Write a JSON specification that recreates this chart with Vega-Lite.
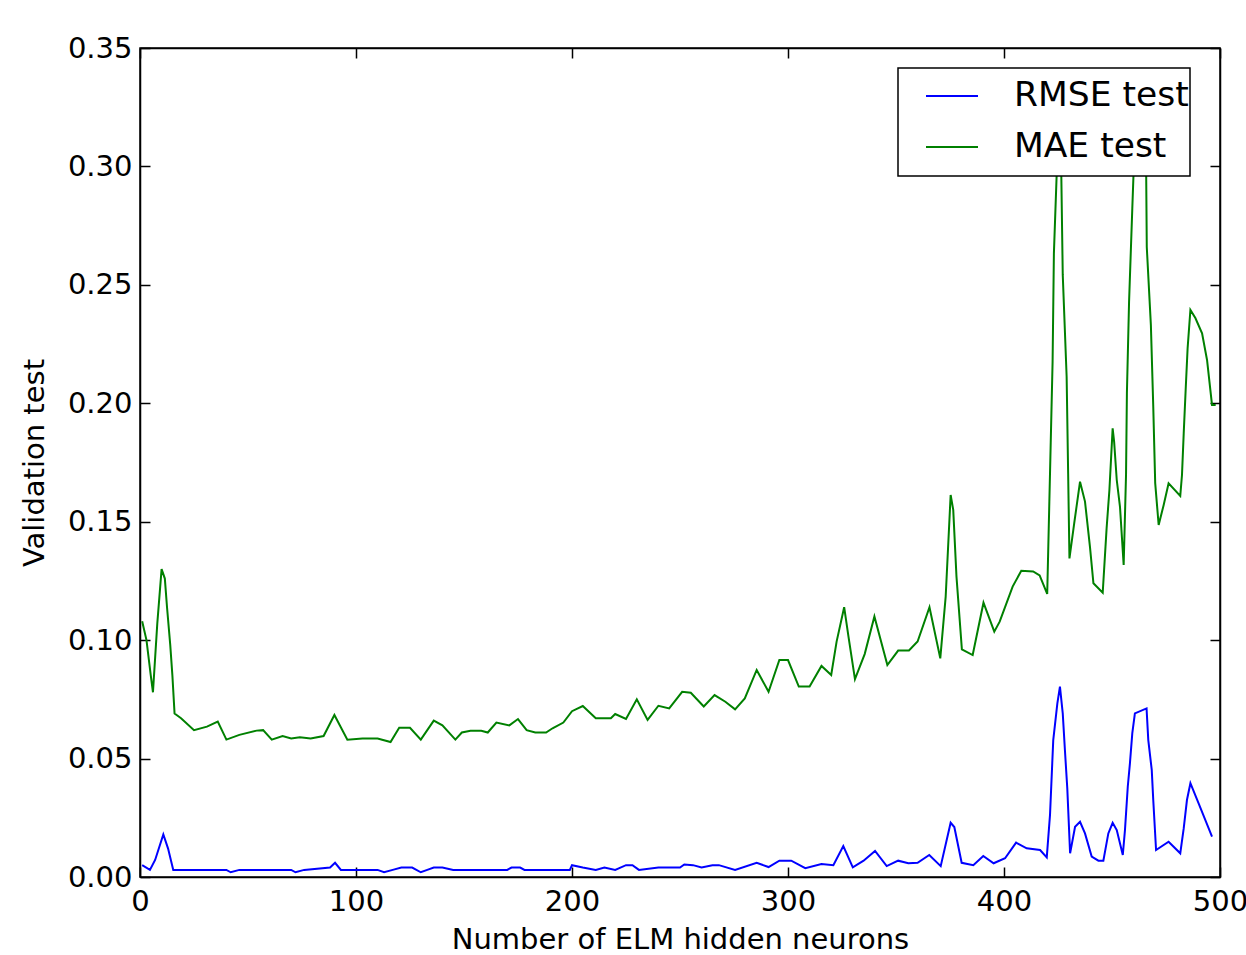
{
  "$schema": "https://vega.github.io/schema/vega-lite/v6.json",
  "width": 1080,
  "height": 829,
  "autosize": {"type": "none"},
  "padding": {"left": 140, "top": 48, "right": 26, "bottom": 78},
  "background": "white",
  "config": {
    "font": "DejaVu Sans",
    "view": {"stroke": "black", "strokeWidth": 1.5}
  },
  "data": {
    "values": [
      {"n": 1, "v": 0.108, "s": "MAE test"},
      {"n": 3, "v": 0.100, "s": "MAE test"},
      {"n": 5, "v": 0.085, "s": "MAE test"},
      {"n": 6, "v": 0.078, "s": "MAE test"},
      {"n": 8, "v": 0.107, "s": "MAE test"},
      {"n": 10, "v": 0.130, "s": "MAE test"},
      {"n": 11.5, "v": 0.126, "s": "MAE test"},
      {"n": 12.5, "v": 0.114, "s": "MAE test"},
      {"n": 14, "v": 0.098, "s": "MAE test"},
      {"n": 15, "v": 0.085, "s": "MAE test"},
      {"n": 16, "v": 0.069, "s": "MAE test"},
      {"n": 19, "v": 0.067, "s": "MAE test"},
      {"n": 25, "v": 0.062, "s": "MAE test"},
      {"n": 31, "v": 0.0635, "s": "MAE test"},
      {"n": 36, "v": 0.0656, "s": "MAE test"},
      {"n": 40, "v": 0.058, "s": "MAE test"},
      {"n": 46, "v": 0.060, "s": "MAE test"},
      {"n": 54, "v": 0.0618, "s": "MAE test"},
      {"n": 57, "v": 0.062, "s": "MAE test"},
      {"n": 61, "v": 0.058, "s": "MAE test"},
      {"n": 66, "v": 0.0595, "s": "MAE test"},
      {"n": 70, "v": 0.0585, "s": "MAE test"},
      {"n": 74, "v": 0.059, "s": "MAE test"},
      {"n": 79, "v": 0.0585, "s": "MAE test"},
      {"n": 85, "v": 0.0595, "s": "MAE test"},
      {"n": 90, "v": 0.0684, "s": "MAE test"},
      {"n": 96, "v": 0.058, "s": "MAE test"},
      {"n": 103, "v": 0.0585, "s": "MAE test"},
      {"n": 110, "v": 0.0585, "s": "MAE test"},
      {"n": 116, "v": 0.057, "s": "MAE test"},
      {"n": 120, "v": 0.063, "s": "MAE test"},
      {"n": 125, "v": 0.063, "s": "MAE test"},
      {"n": 130, "v": 0.058, "s": "MAE test"},
      {"n": 136, "v": 0.066, "s": "MAE test"},
      {"n": 140, "v": 0.064, "s": "MAE test"},
      {"n": 146, "v": 0.058, "s": "MAE test"},
      {"n": 149, "v": 0.061, "s": "MAE test"},
      {"n": 153, "v": 0.0617, "s": "MAE test"},
      {"n": 158, "v": 0.0617, "s": "MAE test"},
      {"n": 161, "v": 0.061, "s": "MAE test"},
      {"n": 165, "v": 0.0652, "s": "MAE test"},
      {"n": 171, "v": 0.064, "s": "MAE test"},
      {"n": 175, "v": 0.0667, "s": "MAE test"},
      {"n": 179, "v": 0.062, "s": "MAE test"},
      {"n": 183, "v": 0.061, "s": "MAE test"},
      {"n": 188, "v": 0.061, "s": "MAE test"},
      {"n": 191, "v": 0.0628, "s": "MAE test"},
      {"n": 196, "v": 0.0652, "s": "MAE test"},
      {"n": 200, "v": 0.070, "s": "MAE test"},
      {"n": 205, "v": 0.0722, "s": "MAE test"},
      {"n": 211, "v": 0.067, "s": "MAE test"},
      {"n": 218, "v": 0.067, "s": "MAE test"},
      {"n": 220, "v": 0.0688, "s": "MAE test"},
      {"n": 225, "v": 0.0667, "s": "MAE test"},
      {"n": 230, "v": 0.075, "s": "MAE test"},
      {"n": 235, "v": 0.0663, "s": "MAE test"},
      {"n": 240, "v": 0.0723, "s": "MAE test"},
      {"n": 245, "v": 0.0712, "s": "MAE test"},
      {"n": 251, "v": 0.0782, "s": "MAE test"},
      {"n": 255, "v": 0.0778, "s": "MAE test"},
      {"n": 261, "v": 0.072, "s": "MAE test"},
      {"n": 266, "v": 0.0768, "s": "MAE test"},
      {"n": 271, "v": 0.074, "s": "MAE test"},
      {"n": 275.5, "v": 0.0708, "s": "MAE test"},
      {"n": 280, "v": 0.0754, "s": "MAE test"},
      {"n": 285.5, "v": 0.0874, "s": "MAE test"},
      {"n": 291, "v": 0.0782, "s": "MAE test"},
      {"n": 296, "v": 0.0916, "s": "MAE test"},
      {"n": 300, "v": 0.0916, "s": "MAE test"},
      {"n": 305, "v": 0.0804, "s": "MAE test"},
      {"n": 310, "v": 0.0804, "s": "MAE test"},
      {"n": 315.5, "v": 0.0891, "s": "MAE test"},
      {"n": 320, "v": 0.0853, "s": "MAE test"},
      {"n": 322.5, "v": 0.0994, "s": "MAE test"},
      {"n": 326, "v": 0.1139, "s": "MAE test"},
      {"n": 328, "v": 0.1015, "s": "MAE test"},
      {"n": 331, "v": 0.0835, "s": "MAE test"},
      {"n": 335.5, "v": 0.0941, "s": "MAE test"},
      {"n": 340, "v": 0.110, "s": "MAE test"},
      {"n": 346, "v": 0.0895, "s": "MAE test"},
      {"n": 351, "v": 0.0956, "s": "MAE test"},
      {"n": 356, "v": 0.0956, "s": "MAE test"},
      {"n": 360, "v": 0.0994, "s": "MAE test"},
      {"n": 365.5, "v": 0.1139, "s": "MAE test"},
      {"n": 370.5, "v": 0.0923, "s": "MAE test"},
      {"n": 373, "v": 0.1184, "s": "MAE test"},
      {"n": 375.3, "v": 0.1613, "s": "MAE test"},
      {"n": 376.5, "v": 0.155, "s": "MAE test"},
      {"n": 378, "v": 0.1268, "s": "MAE test"},
      {"n": 380.5, "v": 0.0961, "s": "MAE test"},
      {"n": 385.5, "v": 0.0937, "s": "MAE test"},
      {"n": 390.5, "v": 0.1158, "s": "MAE test"},
      {"n": 395.5, "v": 0.1036, "s": "MAE test"},
      {"n": 398, "v": 0.1078, "s": "MAE test"},
      {"n": 404, "v": 0.1226, "s": "MAE test"},
      {"n": 408, "v": 0.1293, "s": "MAE test"},
      {"n": 413.5, "v": 0.129, "s": "MAE test"},
      {"n": 416.5, "v": 0.1273, "s": "MAE test"},
      {"n": 420, "v": 0.1195, "s": "MAE test"},
      {"n": 421.3, "v": 0.1704, "s": "MAE test"},
      {"n": 422.5, "v": 0.2176, "s": "MAE test"},
      {"n": 423.1, "v": 0.2633, "s": "MAE test"},
      {"n": 424.4, "v": 0.297, "s": "MAE test"},
      {"n": 426, "v": 0.33, "s": "MAE test"},
      {"n": 427.2, "v": 0.2542, "s": "MAE test"},
      {"n": 429, "v": 0.2112, "s": "MAE test"},
      {"n": 429.7, "v": 0.1704, "s": "MAE test"},
      {"n": 430.3, "v": 0.1345, "s": "MAE test"},
      {"n": 432.5, "v": 0.1493, "s": "MAE test"},
      {"n": 435.2, "v": 0.1669, "s": "MAE test"},
      {"n": 437.5, "v": 0.1585, "s": "MAE test"},
      {"n": 439.8, "v": 0.1394, "s": "MAE test"},
      {"n": 441.4, "v": 0.124, "s": "MAE test"},
      {"n": 445.7, "v": 0.120, "s": "MAE test"},
      {"n": 447.5, "v": 0.1472, "s": "MAE test"},
      {"n": 448.8, "v": 0.1634, "s": "MAE test"},
      {"n": 450.3, "v": 0.1894, "s": "MAE test"},
      {"n": 451, "v": 0.1836, "s": "MAE test"},
      {"n": 452.2, "v": 0.1676, "s": "MAE test"},
      {"n": 453.7, "v": 0.1563, "s": "MAE test"},
      {"n": 455.4, "v": 0.1317, "s": "MAE test"},
      {"n": 456.5, "v": 0.17, "s": "MAE test"},
      {"n": 456.9, "v": 0.2042, "s": "MAE test"},
      {"n": 457.9, "v": 0.2429, "s": "MAE test"},
      {"n": 459.4, "v": 0.2823, "s": "MAE test"},
      {"n": 460.8, "v": 0.318, "s": "MAE test"},
      {"n": 465.6, "v": 0.322, "s": "MAE test"},
      {"n": 466.1, "v": 0.266, "s": "MAE test"},
      {"n": 468, "v": 0.233, "s": "MAE test"},
      {"n": 469.1, "v": 0.1986, "s": "MAE test"},
      {"n": 470, "v": 0.1663, "s": "MAE test"},
      {"n": 471.6, "v": 0.1486, "s": "MAE test"},
      {"n": 473.9, "v": 0.157, "s": "MAE test"},
      {"n": 476.2, "v": 0.1662, "s": "MAE test"},
      {"n": 481.6, "v": 0.1609, "s": "MAE test"},
      {"n": 482.4, "v": 0.1697, "s": "MAE test"},
      {"n": 483.2, "v": 0.1873, "s": "MAE test"},
      {"n": 484.1, "v": 0.2056, "s": "MAE test"},
      {"n": 485, "v": 0.2232, "s": "MAE test"},
      {"n": 486.3, "v": 0.2394, "s": "MAE test"},
      {"n": 488.6, "v": 0.236, "s": "MAE test"},
      {"n": 491.7, "v": 0.2295, "s": "MAE test"},
      {"n": 494, "v": 0.2183, "s": "MAE test"},
      {"n": 496.3, "v": 0.1993, "s": "MAE test"},
      {"n": 498, "v": 0.1993, "s": "MAE test"},

      {"n": 1, "v": 0.005, "s": "RMSE test"},
      {"n": 4.6, "v": 0.003, "s": "RMSE test"},
      {"n": 7, "v": 0.0072, "s": "RMSE test"},
      {"n": 10.8, "v": 0.018, "s": "RMSE test"},
      {"n": 13, "v": 0.012, "s": "RMSE test"},
      {"n": 15.4, "v": 0.003, "s": "RMSE test"},
      {"n": 40, "v": 0.003, "s": "RMSE test"},
      {"n": 42, "v": 0.002, "s": "RMSE test"},
      {"n": 46, "v": 0.003, "s": "RMSE test"},
      {"n": 70, "v": 0.003, "s": "RMSE test"},
      {"n": 72, "v": 0.002, "s": "RMSE test"},
      {"n": 76, "v": 0.003, "s": "RMSE test"},
      {"n": 88, "v": 0.004, "s": "RMSE test"},
      {"n": 90.3, "v": 0.006, "s": "RMSE test"},
      {"n": 93, "v": 0.003, "s": "RMSE test"},
      {"n": 110, "v": 0.003, "s": "RMSE test"},
      {"n": 113, "v": 0.002, "s": "RMSE test"},
      {"n": 117, "v": 0.003, "s": "RMSE test"},
      {"n": 121, "v": 0.004, "s": "RMSE test"},
      {"n": 126, "v": 0.004, "s": "RMSE test"},
      {"n": 130, "v": 0.002, "s": "RMSE test"},
      {"n": 133, "v": 0.003, "s": "RMSE test"},
      {"n": 136, "v": 0.004, "s": "RMSE test"},
      {"n": 140, "v": 0.004, "s": "RMSE test"},
      {"n": 145, "v": 0.003, "s": "RMSE test"},
      {"n": 170, "v": 0.003, "s": "RMSE test"},
      {"n": 172, "v": 0.004, "s": "RMSE test"},
      {"n": 176, "v": 0.004, "s": "RMSE test"},
      {"n": 178, "v": 0.003, "s": "RMSE test"},
      {"n": 199, "v": 0.003, "s": "RMSE test"},
      {"n": 200, "v": 0.005, "s": "RMSE test"},
      {"n": 205, "v": 0.004, "s": "RMSE test"},
      {"n": 211, "v": 0.003, "s": "RMSE test"},
      {"n": 215, "v": 0.004, "s": "RMSE test"},
      {"n": 220, "v": 0.003, "s": "RMSE test"},
      {"n": 225, "v": 0.005, "s": "RMSE test"},
      {"n": 228, "v": 0.005, "s": "RMSE test"},
      {"n": 231, "v": 0.003, "s": "RMSE test"},
      {"n": 240, "v": 0.004, "s": "RMSE test"},
      {"n": 250, "v": 0.004, "s": "RMSE test"},
      {"n": 252, "v": 0.0053, "s": "RMSE test"},
      {"n": 256, "v": 0.005, "s": "RMSE test"},
      {"n": 260, "v": 0.004, "s": "RMSE test"},
      {"n": 265, "v": 0.005, "s": "RMSE test"},
      {"n": 268, "v": 0.005, "s": "RMSE test"},
      {"n": 275.5, "v": 0.003, "s": "RMSE test"},
      {"n": 285.5, "v": 0.006, "s": "RMSE test"},
      {"n": 291, "v": 0.0042, "s": "RMSE test"},
      {"n": 296, "v": 0.0069, "s": "RMSE test"},
      {"n": 301.5, "v": 0.0069, "s": "RMSE test"},
      {"n": 308, "v": 0.0037, "s": "RMSE test"},
      {"n": 315.5, "v": 0.0055, "s": "RMSE test"},
      {"n": 321, "v": 0.005, "s": "RMSE test"},
      {"n": 325.6, "v": 0.0131, "s": "RMSE test"},
      {"n": 330, "v": 0.0041, "s": "RMSE test"},
      {"n": 335, "v": 0.0069, "s": "RMSE test"},
      {"n": 340.3, "v": 0.011, "s": "RMSE test"},
      {"n": 345.7, "v": 0.0046, "s": "RMSE test"},
      {"n": 351, "v": 0.0069, "s": "RMSE test"},
      {"n": 355.7, "v": 0.0058, "s": "RMSE test"},
      {"n": 360, "v": 0.006, "s": "RMSE test"},
      {"n": 365.4, "v": 0.0093, "s": "RMSE test"},
      {"n": 370.7, "v": 0.0046, "s": "RMSE test"},
      {"n": 375.3, "v": 0.0229, "s": "RMSE test"},
      {"n": 377, "v": 0.0211, "s": "RMSE test"},
      {"n": 380.4, "v": 0.006, "s": "RMSE test"},
      {"n": 385.8, "v": 0.005, "s": "RMSE test"},
      {"n": 390.4, "v": 0.0089, "s": "RMSE test"},
      {"n": 395.2, "v": 0.0058, "s": "RMSE test"},
      {"n": 400.5, "v": 0.0079, "s": "RMSE test"},
      {"n": 405.6, "v": 0.0145, "s": "RMSE test"},
      {"n": 410.5, "v": 0.0121, "s": "RMSE test"},
      {"n": 416.7, "v": 0.0114, "s": "RMSE test"},
      {"n": 419.8, "v": 0.0083, "s": "RMSE test"},
      {"n": 421.3, "v": 0.0262, "s": "RMSE test"},
      {"n": 422.8, "v": 0.0578, "s": "RMSE test"},
      {"n": 424.7, "v": 0.0733, "s": "RMSE test"},
      {"n": 425.9, "v": 0.0804, "s": "RMSE test"},
      {"n": 427.2, "v": 0.0691, "s": "RMSE test"},
      {"n": 428.2, "v": 0.0536, "s": "RMSE test"},
      {"n": 429.3, "v": 0.0374, "s": "RMSE test"},
      {"n": 430.6, "v": 0.010, "s": "RMSE test"},
      {"n": 432.9, "v": 0.0212, "s": "RMSE test"},
      {"n": 435.2, "v": 0.0233, "s": "RMSE test"},
      {"n": 437.5, "v": 0.0184, "s": "RMSE test"},
      {"n": 440.6, "v": 0.0086, "s": "RMSE test"},
      {"n": 443.7, "v": 0.0069, "s": "RMSE test"},
      {"n": 446, "v": 0.0069, "s": "RMSE test"},
      {"n": 448.3, "v": 0.0184, "s": "RMSE test"},
      {"n": 450.3, "v": 0.0229, "s": "RMSE test"},
      {"n": 452.2, "v": 0.0198, "s": "RMSE test"},
      {"n": 455, "v": 0.0093, "s": "RMSE test"},
      {"n": 456, "v": 0.0198, "s": "RMSE test"},
      {"n": 457.3, "v": 0.0381, "s": "RMSE test"},
      {"n": 458.3, "v": 0.048, "s": "RMSE test"},
      {"n": 459.4, "v": 0.0607, "s": "RMSE test"},
      {"n": 460.6, "v": 0.0691, "s": "RMSE test"},
      {"n": 466, "v": 0.0712, "s": "RMSE test"},
      {"n": 466.8, "v": 0.0578, "s": "RMSE test"},
      {"n": 468.4, "v": 0.0452, "s": "RMSE test"},
      {"n": 469.1, "v": 0.0325, "s": "RMSE test"},
      {"n": 470.4, "v": 0.0114, "s": "RMSE test"},
      {"n": 476.2, "v": 0.0149, "s": "RMSE test"},
      {"n": 481.6, "v": 0.010, "s": "RMSE test"},
      {"n": 483.2, "v": 0.0205, "s": "RMSE test"},
      {"n": 484.7, "v": 0.0325, "s": "RMSE test"},
      {"n": 486.3, "v": 0.0396, "s": "RMSE test"},
      {"n": 490.1, "v": 0.0311, "s": "RMSE test"},
      {"n": 496.3, "v": 0.017, "s": "RMSE test"}
    ]
  },
  "layer": [
    {
      "mark": {"type": "line", "strokeWidth": 2, "clip": true},
      "encoding": {
        "x": {
          "field": "n", "type": "quantitative",
          "scale": {"domain": [0, 500], "nice": false, "zero": false},
          "axis": {
            "orient": "bottom", "values": [0, 100, 200, 300, 400, 500], "format": "d",
            "grid": false, "domainColor": "black", "domainWidth": 1.5,
            "tickColor": "black", "tickWidth": 1.5, "tickSize": -10,
            "labelFontSize": 29, "labelColor": "black", "labelPadding": 20, "labelFlush": false,
            "title": "Number of ELM hidden neurons", "titleFontSize": 29, "titleFontWeight": "normal",
            "titleColor": "black", "titlePadding": 9
          }
        },
        "y": {
          "field": "v", "type": "quantitative",
          "scale": {"domain": [0, 0.35], "nice": false},
          "axis": {
            "orient": "left", "values": [0, 0.05, 0.1, 0.15, 0.2, 0.25, 0.3, 0.35], "format": ".2f",
            "grid": false, "domainColor": "black", "domainWidth": 1.5,
            "tickColor": "black", "tickWidth": 1.5, "tickSize": -10,
            "labelFontSize": 29, "labelColor": "black", "labelPadding": 18, "labelFlush": false,
            "title": "Validation test", "titleFontSize": 29, "titleFontWeight": "normal",
            "titleColor": "black", "titlePadding": 18
          }
        },
        "color": {
          "field": "s", "type": "nominal",
          "scale": {"domain": ["RMSE test", "MAE test"], "range": ["#0000ff", "#008000"]},
          "legend": {
            "title": "\u00a0", "titleOrient": "bottom", "titleFontSize": 8, "titlePadding": 3,
            "orient": "none", "legendX": 758, "legendY": 20,
            "fillColor": "white", "strokeColor": "black",
            "padding": 1, "rowPadding": 7,
            "symbolType": "stroke", "symbolSize": 2704, "symbolStrokeWidth": 2, "symbolOffset": 26,
            "labelFontSize": 34.5, "labelColor": "black", "labelOffset": 35, "labelLimit": 400,
            "encode": {
              "legend": {"update": {"strokeWidth": {"value": 1.5}}},
              "entries": {"update": {"width": {"value": 302}}}
            }
          }
        }
      }
    },
    {
      "mark": {"type": "line", "opacity": 0, "clip": true},
      "encoding": {
        "x": {
          "field": "n", "type": "quantitative",
          "axis": {
            "orient": "top", "values": [0, 100, 200, 300, 400, 500], "labels": false, "title": null,
            "grid": false, "domainColor": "black", "domainWidth": 1.5,
            "tickColor": "black", "tickWidth": 1.5, "tickSize": -10
          }
        },
        "y": {
          "field": "v", "type": "quantitative",
          "axis": {
            "orient": "right", "values": [0, 0.05, 0.1, 0.15, 0.2, 0.25, 0.3, 0.35], "labels": false, "title": null,
            "grid": false, "domainColor": "black", "domainWidth": 1.5,
            "tickColor": "black", "tickWidth": 1.5, "tickSize": -10
          }
        },
        "detail": {"field": "s", "type": "nominal"}
      }
    }
  ],
  "resolve": {"axis": {"x": "independent", "y": "independent"}}
}
